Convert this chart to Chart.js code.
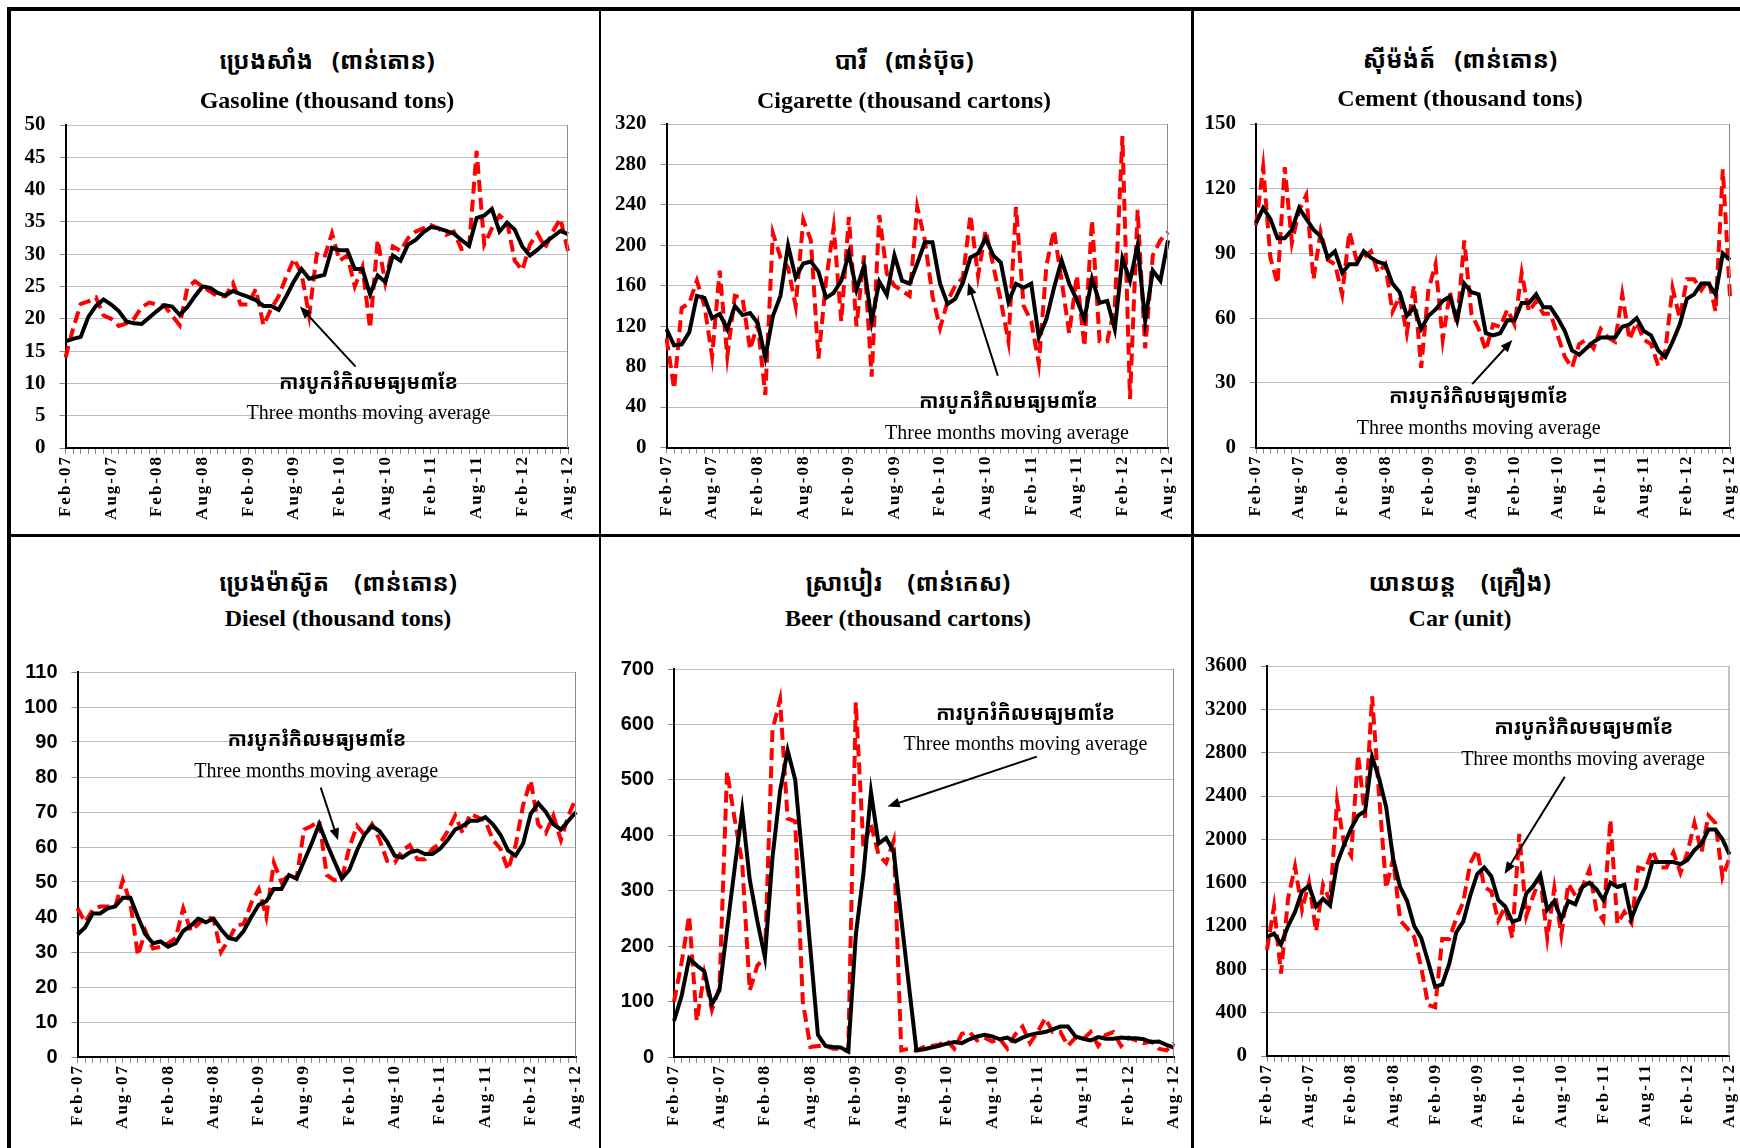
<!DOCTYPE html>
<html>
<head>
<meta charset="utf-8">
<script src="https://cdn.jsdelivr.net/npm/chart.js@4.4.1/dist/chart.umd.min.js"></script>
<style>
html, body { margin: 0; padding: 0; background: #fff; }
body { width: 1740px; height: 1148px; position: relative; overflow: hidden; font-family: "Liberation Serif", "Times New Roman", serif; }
.rule { position: absolute; background: #000; }
.box { position: absolute; }
.box canvas { display: block; }
.kh { position: absolute; transform: translate(-50%, -50%); font-size: 24px; font-weight: bold; white-space: nowrap;
      font-family: "Khmer OS Muol Light", "Noto Sans Khmer", "Khmer OS", "Noto Sans", serif; }
.en { position: absolute; transform: translate(-50%, -50%); font-size: 24px; font-weight: bold; white-space: nowrap; }
</style>
</head>
<body>
<div class="rule" style="left:7px;top:7px;width:1733px;height:4px"></div>
<div class="rule" style="left:7px;top:7px;width:4px;height:1141px"></div>
<div class="rule" style="left:7px;top:534px;width:1733px;height:3px"></div>
<div class="rule" style="left:599px;top:7px;width:2px;height:1141px"></div>
<div class="rule" style="left:1191px;top:7px;width:3px;height:1141px"></div>
<script>
// months Feb-07 .. Aug-12
const MONTH_NAMES = ['Jan','Feb','Mar','Apr','May','Jun','Jul','Aug','Sep','Oct','Nov','Dec'];
const months = [];
for (let i = 0; i < 67; i++) {
    months.push(MONTH_NAMES[(i + 1) % 12] + '-' + String(7 + Math.floor((i + 1) / 12)).padStart(2, '0'));
}

// monthly values (red dashed) and three months moving average (black)
const gasoline = [14.0,18.5,22.3,22.7,23.3,20.5,20.0,18.9,19.3,20.0, 21.8,22.5,22.2,22.0,20.5,19.0,24.8,25.8,25.0,24.2,
    23.5,23.5,25.5,22.2,22.2,24.6,19.0,21.5,23.5,26.5, 29.3,27.0,20.5,30.0,29.5,33.2,29.0,29.8,25.0,28.0,
    18.5,32.2,25.6,31.2,30.5,32.5,33.5,34.0,34.5,34.0, 33.0,33.5,30.8,31.0,46.0,31.5,34.0,36.0,35.0,29.0,
    27.5,31.5,33.2,31.0,33.5,35.5,30.5];
const gasolineAvg = [16.5,16.9,17.2,20.3,22.0,23.0,22.2,21.2,19.6,19.3, 19.2,20.2,21.2,22.1,21.9,20.6,21.8,23.5,25.0,24.8,
    24.0,23.6,24.3,23.8,23.4,22.9,22.0,22.0,21.4,23.5, 25.8,27.7,26.2,26.5,26.8,31.0,30.6,30.6,27.7,27.7,
    23.8,26.7,25.7,29.8,29.0,31.5,32.2,33.4,34.2,34.0, 33.6,33.2,32.2,31.3,35.6,36.0,37.0,33.5,34.9,33.8,
    31.2,29.8,30.7,31.8,32.7,33.6,33.1];

const cigarette = [108,58,138,143,165,140,90,175,90,150, 148,97,122,52,212,188,178,140,225,205,
    88,165,218,125,228,120,190,70,230,172, 160,155,150,238,205,150,118,145,160,168,
    230,170,215,180,145,105,238,140,125,83, 180,215,165,113,170,100,225,105,105,140,
    308,48,235,98,190,205,213];
const cigaretteAvg = [117,101,102,114,150,148,128,132,117,140, 131,133,123,89,130,150,200,168,182,184,
    174,148,153,165,192,156,180,125,164,151, 190,165,162,182,203,203,162,142,147,163,
    188,192,207,190,183,144,162,158,162,109, 127,158,185,162,146,127,167,143,145,117,
    187,165,200,125,175,165,205];

const cement = [103,130,88,76,130,95,110,117,78,100, 87,85,71,100,87,88,91,81,85,63,
    70,53,75,37,73,85,50,72,57,96, 62,55,45,57,56,64,57,81,63,68,
    62,62,52,42,37,48,50,46,55,51, 49,71,50,58,50,48,38,45,74,60,
    78,78,73,78,63,129,70];
const cementAvg = [104,111,106,97,97,101,111,106,101,98, 88,91,81,85,85,91,88,86,85,76,
    72,61,65,55,61,64,68,70,59,76, 72,71,53,52,53,59,59,67,67,71,
    65,65,60,54,45,43,46,49,51,51, 51,56,57,60,54,52,45,42,49,57,
    69,71,76,76,71,90,87];

const diesel = [42.5,38.5,42,43,43,43,50.5,44,29,36, 31,31.5,32.5,34,42.5,36,38,40,39.5,30,
    33.5,37.5,38,44,48,40,55.5,50,52,51, 65,66,67.5,52,50.5,51,60,66,63.5,66.5,
    62,56,55.5,59,60.5,56.5,56.5,59.5,61,64.5, 69,64,69.5,68.5,67.5,62,59.5,53.5,60.5,72,
    79,66.5,64,69,62,69,74];
const dieselAvg = [35,37,41,41,42.5,43,45.5,45.5,40,35, 32.5,33,31.5,32.5,36,37.5,39.5,38.5,39.5,36.5,
    34,33.5,36,40,43.5,44.5,48,48,52,51, 56,61,66.5,61,56,51,53.5,59,63.5,66,
    64.5,61.5,57.5,57,58.5,59,58,58,59.5,62, 65,66,67.5,67.5,68.5,66.5,63.5,59,57.5,61,
    69.5,72.5,70,66.5,65,67.5,70];

const beer = [100,170,255,65,150,85,125,515,430,350, 120,165,180,590,645,430,425,100,18,20,
    20,15,15,10,640,380,420,365,350,390, 12,15,12,18,20,22,30,15,42,45,
    30,35,28,33,15,40,55,25,45,70, 45,45,20,35,32,45,20,40,45,20,
    35,30,25,28,15,12,25];
const beerAvg = [65,110,178,165,155,95,120,230,340,445, 320,245,180,360,480,553,500,350,195,40,
    20,18,17,10,220,330,478,385,395,370, 250,130,12,14,17,20,24,27,25,32,
    37,40,37,32,35,28,35,40,43,45, 50,55,55,37,33,30,36,33,33,35,
    34,34,32,27,28,22,17];

const car = [980,1380,760,1450,1750,1350,1600,1150,1580,1430, 2350,1960,1850,2780,2200,3320,2400,1550,1820,1250,
    1180,1100,820,470,450,1080,1080,1270,1420,1780, 1900,1560,1520,1250,1380,1090,2050,1290,1480,1640,
    1090,1550,1120,1590,1480,1560,1720,1350,1250,2180, 1220,1330,1230,1740,1720,1900,1740,1740,1880,1690,
    1880,2150,1880,2220,2150,1650,1830];
const carAvg = [1100,1130,1030,1200,1330,1520,1570,1380,1450,1390, 1780,1950,2100,2220,2260,2760,2560,2300,1820,1560,
    1430,1200,1090,870,640,660,850,1140,1240,1480, 1680,1740,1660,1440,1380,1240,1260,1500,1570,1670,
    1350,1430,1260,1430,1400,1560,1600,1540,1440,1600, 1560,1580,1270,1430,1560,1790,1790,1790,1790,1770,
    1810,1900,1960,2090,2090,2000,1860];

const NOTE_KH = 'ការបូករំកិលមធ្យម៣ខែ';
const NOTE_EN = 'Three months moving average';

const SERIF_BOLD = { family: '"Liberation Serif", "Times New Roman", serif', size: 21, weight: 'bold' };
const SANS_BOLD = { family: '"Liberation Sans", Arial, sans-serif', size: 20, weight: 'bold' };

// layout: plot = [left, top, right, bottom], cell = [left, right]
const panels = [
    { red: gasoline, avg: gasolineAvg, max: 50, step: 5, font: SERIF_BOLD,
      plot: [65.5, 125, 568, 448], cell: [12, 598], title: [327, 59, 100],
      kh: 'ប្រេងសាំង\u00a0\u00a0 (ពាន់តោន)', en: 'Gasoline (thousand tons)',
      note: { kh: [39.8, 10.05], en: [39.8, 5.3], from: [38.1, 12.6], to: [30.8, 21.9] } },
    { red: cigarette, avg: cigaretteAvg, max: 320, step: 40, font: SERIF_BOLD,
      plot: [666.5, 123.5, 1168, 447], cell: [602, 1190], title: [904, 59, 100],
      kh: 'បារី\u00a0\u00a0 (ពាន់ប៊ុច)', en: 'Cigarette (thousand cartons)',
      note: { kh: [45, 44.5], en: [44.8, 14], from: [43.6, 71], to: [39.7, 163] } },
    { red: cement, avg: cementAvg, max: 150, step: 30, font: SERIF_BOLD,
      plot: [1256, 123.5, 1730, 447], cell: [1194, 1740], title: [1460, 58, 98],
      kh: 'ស៊ីម៉ង់ត៍\u00a0\u00a0 (ពាន់តោន)', en: 'Cement (thousand tons)',
      note: { kh: [31, 23.2], en: [31, 8.8], from: [30.1, 29.4], to: [35.7, 49.8] } },
    { red: diesel, avg: dieselAvg, max: 110, step: 10, font: SANS_BOLD,
      plot: [77.5, 671.5, 576, 1056.5], cell: [12, 598], title: [338, 581, 618],
      kh: 'ប្រេងម៉ាស៊ូត\u00a0\u00a0\u00a0 (ពាន់តោន)', en: 'Diesel (thousand tons)',
      note: { kh: [31.7, 90.5], en: [31.6, 81.4], from: [32.2, 77], to: [34.5, 61.9] } },
    { red: beer, avg: beerAvg, max: 700, step: 100, font: SANS_BOLD,
      plot: [674, 668.5, 1174, 1056.5], cell: [602, 1190], title: [908, 581, 618],
      kh: 'ស្រាបៀរ\u00a0\u00a0\u00a0 (ពាន់កេស)', en: 'Beer (thousand cartons)',
      note: { kh: [46.4, 619], en: [46.4, 563], from: [47.9, 542], to: [28.2, 452] } },
    { red: car, avg: carAvg, max: 3600, step: 400, font: SERIF_BOLD,
      plot: [1267, 666, 1729.5, 1056], cell: [1194, 1740], title: [1460, 581, 618],
      kh: 'យានយន្ត\u00a0\u00a0\u00a0 (គ្រឿង)', en: 'Car (unit)',
      note: { kh: [45.2, 3025], en: [45.1, 2732], from: [42.5, 2578], to: [33.9, 1680] } }
];

const extras = {
    id: 'panelExtras',
    afterDraw(chart, args, opts) {
        const { ctx, chartArea: a, scales: { x, y } } = chart;
        ctx.save();
        // plot frame on the right
        ctx.strokeStyle = '#8a8a8a';
        ctx.lineWidth = 1;
        ctx.beginPath();
        ctx.moveTo(a.right - 0.5, a.top);
        ctx.lineTo(a.right - 0.5, a.bottom);
        ctx.stroke();

        // rotated month labels every six months
        ctx.fillStyle = '#000';
        ctx.font = 'bold 17px "Liberation Serif", serif';
        ctx.letterSpacing = '2px';
        ctx.textAlign = 'right';
        ctx.textBaseline = 'middle';
        months.forEach((lab, i) => {
            if (i % 6) return;
            ctx.save();
            ctx.translate(x.getPixelForValue(i), a.bottom + 7);
            ctx.rotate(-Math.PI / 2);
            ctx.fillText(lab, 0, 0);
            ctx.restore();
        });
        ctx.letterSpacing = '0px';

        // moving average note + arrow
        const n = opts.note;
        const at = p => [x.getPixelForValue(p[0]), y.getPixelForValue(p[1])];
        ctx.textAlign = 'center';
        ctx.font = 'bold 20px "Khmer OS Muol Light", "Noto Sans Khmer", "Khmer OS", "Noto Sans", serif';
        ctx.fillText(NOTE_KH, ...at(n.kh));
        ctx.font = '20px "Liberation Serif", serif';
        ctx.fillText(NOTE_EN, ...at(n.en));

        const [x0, y0] = at(n.from), [x1, y1] = at(n.to);
        const ang = Math.atan2(y1 - y0, x1 - x0);
        ctx.strokeStyle = '#000';
        ctx.lineWidth = 2;
        ctx.beginPath();
        ctx.moveTo(x0, y0);
        ctx.lineTo(x1 - 8 * Math.cos(ang), y1 - 8 * Math.sin(ang));
        ctx.stroke();
        ctx.beginPath();
        ctx.moveTo(x1, y1);
        ctx.lineTo(x1 - 13 * Math.cos(ang - 0.38), y1 - 13 * Math.sin(ang - 0.38));
        ctx.lineTo(x1 - 13 * Math.cos(ang + 0.38), y1 - 13 * Math.sin(ang + 0.38));
        ctx.closePath();
        ctx.fill();
        ctx.restore();
    }
};

const PAD_TOP = 32;

panels.forEach(p => {
    const [pl, pt, pr, pb] = p.plot;
    const [cl, cr] = p.cell;
    const top = pt - PAD_TOP, bottom = pb + 85;

    const box = document.createElement('div');
    box.className = 'box';
    box.style.left = cl + 'px';
    box.style.top = top + 'px';
    box.style.width = (cr - cl) + 'px';
    box.style.height = (bottom - top) + 'px';
    const cv = document.createElement('canvas');
    box.appendChild(cv);
    document.body.appendChild(box);

    const kh = document.createElement('div');
    kh.className = 'kh';
    kh.style.left = p.title[0] + 'px';
    kh.style.top = p.title[1] + 'px';
    kh.textContent = p.kh;
    document.body.appendChild(kh);
    const en = document.createElement('div');
    en.className = 'en';
    en.style.left = p.title[0] + 'px';
    en.style.top = p.title[2] + 'px';
    en.textContent = p.en;
    document.body.appendChild(en);

    new Chart(cv, {
        type: 'line',
        data: {
            labels: months,
            datasets: [
                { label: 'Three months moving average', data: p.avg, borderColor: '#000000', borderWidth: 4,
                  pointRadius: 0, tension: 0 },
                { label: 'Monthly', data: p.red, borderColor: '#ff0000', borderWidth: 4, borderDash: [12, 6],
                  pointRadius: 0, tension: 0 }
            ]
        },
        options: {
            responsive: true,
            maintainAspectRatio: false,
            animation: false,
            layout: { padding: { left: 0, top: PAD_TOP, right: cr - pr, bottom: 0 } },
            plugins: { legend: { display: false }, tooltip: { enabled: false }, panelExtras: { note: p.note } },
            scales: {
                x: {
                    offset: false,
                    grid: { drawOnChartArea: false, color: '#8a8a8a', tickColor: '#8a8a8a', tickLength: 6 },
                    border: { color: '#000', width: 2 },
                    ticks: { autoSkip: false, maxRotation: 0, callback: () => '' },
                    afterFit(s) { s.height = 85; }
                },
                y: {
                    min: 0, max: p.max,
                    grid: { color: '#bdbdbd', tickColor: '#8a8a8a', tickLength: 6 },
                    border: { color: '#000', width: 2 },
                    ticks: { stepSize: p.step, padding: 14, color: '#000', font: p.font, callback: v => String(v) },
                    afterFit(s) { s.width = pl - cl; }
                }
            }
        },
        plugins: [extras]
    });
});
</script>
</body>
</html>
